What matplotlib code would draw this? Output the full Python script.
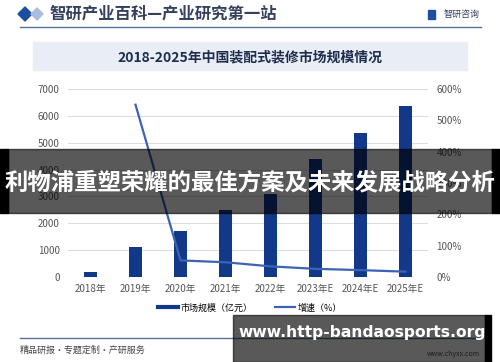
'''
2018-2025年中国装配式装修市场规模情况 - bar + growth line chart.
'''

import matplotlib
matplotlib.use('Agg')
import matplotlib.pyplot as plt
from matplotlib.patches import Rectangle, Polygon
from matplotlib.lines import Line2D

plt.rcParams['font.family'] = ['Noto Sans CJK SC', 'DejaVu Sans']

# Data
years = ['2018年', '2019年', '2020年', '2021年', '2022年', '2023年E', '2024年E', '2025年E']
market_size = [170, 1100, 1700, 2500, 3100, 4400, 5350, 6350]  # 亿元
growth = [None, 550, 53, 47, 34, 26, 22, 17]  # %

bar_color = '#12388a'
line_color = '#3c63b4'

fig = plt.figure(figsize=(5, 3.62), dpi=100)
W, H = 500, 362

def fx(x):
    return x / W

def fy(y):
    return 1 - y / H

# Header
fig.add_artist(Polygon([[fx(18), fy(14)], [fx(25), fy(7)], [fx(32), fy(14)], [fx(25), fy(21)]],
                       closed=True, color='#1c4fa0', transform=fig.transFigure))
fig.add_artist(Polygon([[fx(31), fy(14)], [fx(37), fy(8)], [fx(43), fy(14)], [fx(37), fy(20)]],
                       closed=True, color='#a9bde0', transform=fig.transFigure))
fig.text(fx(49), fy(14), '智研产业百科—产业研究第一站', fontsize=11.8, fontweight='bold',
         color='#34405e', va='center', ha='left')
fig.text(fx(480), fy(14), '智研咨询', fontsize=6.5, color='#34405e', va='center', ha='right')
fig.add_artist(Rectangle((fx(428), fy(19)), fx(7), 9 / H, color='#1c4fa0', transform=fig.transFigure))
fig.add_artist(Line2D([fx(20), fx(481)], [fy(27), fy(27)], color='#5b6f95', lw=1,
                      transform=fig.transFigure))

# Chart title box
fig.add_artist(Rectangle((fx(33), fy(70)), fx(434), 28 / H, color='#e9eef6',
                         transform=fig.transFigure, zorder=0))
fig.text(0.5, fy(57), '2018-2025年中国装配式装修市场规模情况', fontsize=10, fontweight='bold',
         color='#1f2d4d', ha='center', va='center')

# Main axes
ax = fig.add_axes([fx(68), fy(277), fx(360), 188 / H])
x = list(range(len(years)))
ax.bar(x, market_size, width=0.3, color=bar_color, zorder=2, label='市场规模（亿元）')
ax.set_ylim(0, 7000)
ax.set_xlim(-0.5, len(years) - 0.5)
ax.set_yticks(range(0, 7001, 1000))
ax.set_xticks(x)
ax.set_xticklabels(years)
ax.grid(axis='y', color='#dcdcdc', lw=0.8, zorder=0)
for s in ax.spines.values():
    s.set_visible(False)
ax.tick_params(axis='both', length=0, labelsize=7, colors='#555555')
ax.tick_params(axis='y', pad=6)
ax.tick_params(axis='x', pad=5)

ax2 = ax.twinx()
gx = [i for i, g in enumerate(growth) if g is not None]
gy = [g for g in growth if g is not None]
ax2.plot(gx, gy, color=line_color, lw=1.6, zorder=3, label='增速（%）')
ax2.set_ylim(0, 600)
ax2.set_yticks(range(0, 601, 100))
ax2.set_yticklabels([f'{v}%' for v in range(0, 601, 100)])
for s in ax2.spines.values():
    s.set_visible(False)
ax2.tick_params(axis='y', length=0, labelsize=7, colors='#555555', pad=6)

# Legend
handles = [Line2D([], [], color=bar_color, lw=3), Line2D([], [], color=line_color, lw=1.6)]
fig.legend(handles, ['市场规模（亿元）', '增速（%）'], loc='center', bbox_to_anchor=(0.5, fy(308)),
           ncol=2, frameon=False, fontsize=6.5, handlelength=2.2, columnspacing=2.5,
           handletextpad=0.3)

# Footer
fig.add_artist(Line2D([fx(20), fx(481)], [fy(338), fy(338)], color='#5b6f95', lw=1,
                      transform=fig.transFigure))
fig.text(fx(20), fy(350), '精品研报・专题定制・产研服务', fontsize=6.5, color='#444444',
         ha='left', va='center')
fig.text(fx(480), fy(354), 'www.chyxx.com', fontsize=5, color='#555555', ha='right', va='center')

# Overlay banners (semi-transparent, with black edges)
fig.add_artist(Rectangle((0, fy(213)), fx(8), 64 / H, color='black', transform=fig.transFigure, zorder=10))
fig.add_artist(Rectangle((fx(492), fy(213)), fx(8), 64 / H, color='black', transform=fig.transFigure, zorder=10))
fig.add_artist(Rectangle((fx(8), fy(213)), fx(484), 64 / H, color='black', alpha=0.65,
                         transform=fig.transFigure, zorder=11))
fig.text(0.5, fy(182), '利物浦重塑荣耀的最佳方案及未来发展战略分析', fontsize=16.8, fontweight='bold',
         color='white', ha='center', va='center', zorder=12)

fig.add_artist(Rectangle((fx(485), 0), fx(6), 47 / H, color='black', transform=fig.transFigure, zorder=10))
fig.add_artist(Rectangle((fx(233), 0), fx(252), 47 / H, color='black', alpha=0.65,
                         transform=fig.transFigure, zorder=11))
fig.text(fx(362), fy(332), 'www.http-bandaosports.org', fontsize=11.2, fontweight='bold',
         color='white', ha='center', va='center', zorder=12, family='DejaVu Sans')

fig.savefig('out.png', dpi=100)
